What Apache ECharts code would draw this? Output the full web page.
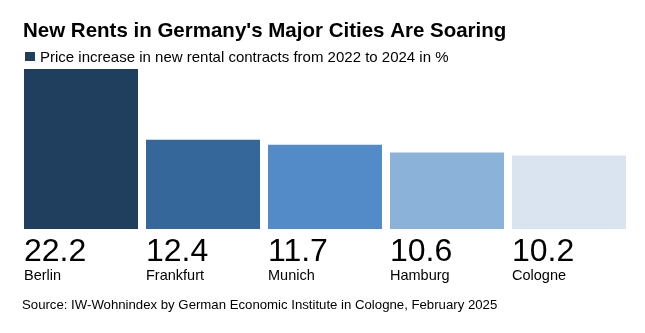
<!DOCTYPE html>
<html>
<head>
<meta charset="utf-8">
<script src="https://cdn.jsdelivr.net/npm/echarts@6/dist/echarts.min.js"></script>
<style>
html,body{margin:0;padding:0;background:#fff;}
#main{width:645px;height:333px;}
</style>
</head>
<body>
<div id="main"></div>
<script>
var cities = ['Berlin', 'Frankfurt', 'Munich', 'Hamburg', 'Cologne'];
var increases = [22.2, 12.4, 11.7, 10.6, 10.2];
var barColors = ['#203f5e', '#35679b', '#528bc7', '#8bb2d9', '#d9e4f0'];

var titleText = "New Rents in Germany's Major Cities Are Soaring";
var subtitleText = 'Price increase in new rental contracts from 2022 to 2024 in %';
var sourceText = 'Source: IW-Wohnindex by German Economic Institute in Cologne, February 2025';

var FONT = '"Liberation Sans", Arial, sans-serif';

var chart = echarts.init(document.getElementById('main'), null, {renderer: 'canvas'});
chart.setOption({
  backgroundColor: '#ffffff',
  animation: false,
  title: [
    {text: titleText, left: 23, top: 21, padding: 0,
     textStyle: {fontFamily: FONT, fontSize: 20.5, fontWeight: 'bold', color: '#000'}},
    {text: subtitleText, left: 40, top: 50, padding: 0,
     textStyle: {fontFamily: FONT, fontSize: 15, fontWeight: 'normal', color: '#000'}},
    {text: sourceText, left: 22, top: 299, padding: 0,
     textStyle: {fontFamily: FONT, fontSize: 13.2, fontWeight: 'normal', color: '#000'}}
  ],
  graphic: [
    {type: 'rect', shape: {x: 25, y: 52, width: 10, height: 9}, style: {fill: barColors[0]}}
  ],
  grid: {left: 20, width: 610, top: 69, height: 160, containLabel: false},
  xAxis: {
    type: 'category', data: cities,
    axisLine: {show: false}, axisTick: {show: false}, axisLabel: {show: false}, splitLine: {show: false}
  },
  yAxis: {
    type: 'value', min: 0, max: 22.2,
    axisLine: {show: false}, axisTick: {show: false}, axisLabel: {show: false}, splitLine: {show: false}
  },
  series: [{
    type: 'bar',
    barWidth: 114,
    data: increases.map(function (v, i) { return {value: v, itemStyle: {color: barColors[i]}}; }),
    label: {
      show: true,
      position: [0, '100%'],
      offset: [0, 8],
      align: 'left',
      verticalAlign: 'top',
      formatter: '{v|{c}}\n{n|{b}}',
      rich: {
        v: {fontFamily: FONT, fontSize: 32, lineHeight: 30, color: '#000'},
        n: {fontFamily: FONT, fontSize: 14.5, lineHeight: 17, color: '#000'}
      }
    }
  }]
});
</script>
</body>
</html>
